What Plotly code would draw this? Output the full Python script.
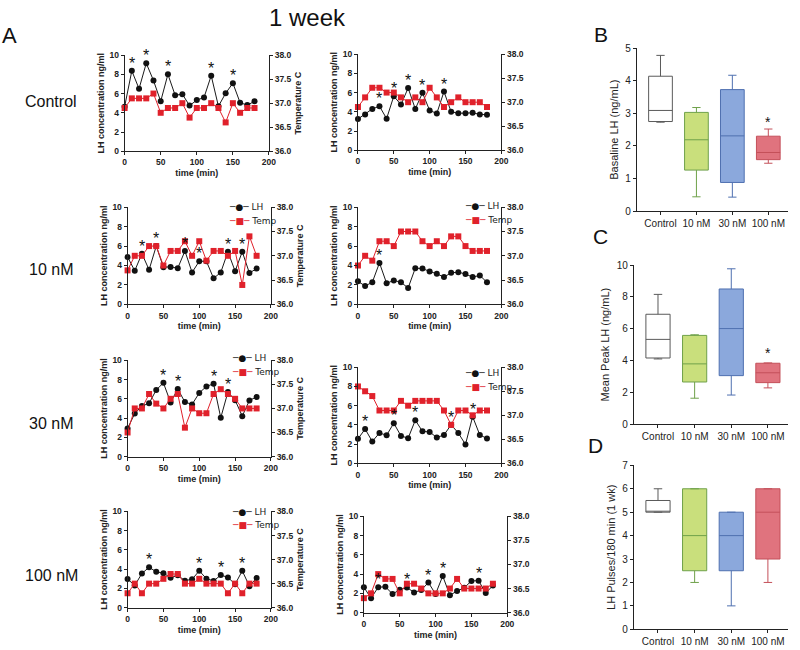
import plotly.graph_objects as go

TIME = list(range(0, 190, 10))
ROW_LABELS = ["Control", "10 nM", "30 nM", "100 nM"]

# ---- Panel A data (LH ng/ml, Temp C) ----
LH_CTRL_1 = [4.63, 8.36, 6.5, 9.15, 7.36, 5.19, 8.0, 5.83, 5.93, 4.75, 5.32, 5.59, 7.86, 4.68, 6.03, 7.08, 5.05, 4.8, 5.19]
TEMP_CTRL_1 = [36.9, 37.1, 37.1, 37.1, 37.2, 36.8, 36.9, 36.9, 37.0, 36.7, 36.9, 36.9, 37.0, 36.9, 36.6, 37.0, 36.8, 36.9, 36.9]
PEAKS_CTRL_1 = [10, 30, 60, 120, 150]

LH_CTRL_2 = [3.25, 3.73, 4.3, 4.58, 3.29, 5.63, 4.75, 6.47, 4.3, 5.97, 4.14, 3.83, 6.1, 4.0, 3.86, 3.86, 3.9, 3.73, 3.7]
TEMP_CTRL_2 = [36.9, 37.1, 37.3, 37.3, 37.2, 37.2, 37.1, 37.0, 37.1, 37.0, 37.3, 37.1, 36.9, 37.0, 37.1, 37.0, 37.0, 37.0, 36.9]
PEAKS_CTRL_2 = [30, 50, 70, 90, 120]

LH_10_1 = [4.88, 3.46, 5.22, 3.56, 6.0, 3.83, 3.86, 3.73, 5.49, 3.29, 4.44, 4.44, 2.68, 3.29, 5.42, 3.42, 5.42, 3.22, 3.69]
TEMP_10_1 = [36.7, 37.0, 37.0, 37.2, 37.2, 36.8, 37.1, 37.1, 37.3, 37.0, 37.3, 36.9, 37.1, 37.1, 37.0, 37.1, 36.4, 37.4, 37.0]
PEAKS_10_1 = [20, 40, 80, 100, 140, 160]

LH_10_2 = [2.37, 1.9, 2.27, 4.27, 2.17, 2.47, 2.27, 1.69, 3.73, 3.69, 3.39, 3.15, 2.81, 3.25, 3.32, 3.12, 2.81, 2.98, 2.27]
TEMP_10_2 = [36.8, 37.0, 36.9, 37.3, 37.3, 37.2, 37.5, 37.5, 37.5, 37.3, 37.2, 37.3, 37.2, 37.4, 37.4, 37.2, 37.1, 37.1, 37.1]
PEAKS_10_2 = [30]

LH_30_1 = [2.92, 4.47, 5.25, 5.53, 6.92, 7.66, 5.63, 7.02, 5.66, 5.42, 6.61, 7.29, 7.56, 4.03, 6.71, 5.86, 4.2, 5.83, 6.2]
TEMP_30_1 = [36.5, 37.0, 37.0, 37.3, 37.1, 37.0, 37.2, 37.3, 36.6, 37.0, 36.9, 36.9, 37.3, 37.4, 37.3, 37.2, 37.0, 37.0, 37.0]
PEAKS_30_1 = [50, 70, 120, 140]

LH_30_2 = [2.55, 3.57, 2.28, 3.16, 2.93, 4.18, 2.86, 2.62, 4.49, 3.33, 3.27, 2.69, 2.96, 4.01, 3.16, 1.97, 4.86, 2.96, 2.59]
TEMP_30_2 = [37.6, 37.5, 37.4, 37.1, 37.1, 37.1, 37.3, 37.2, 37.3, 37.3, 37.3, 37.3, 37.1, 36.8, 37.1, 37.1, 37.0, 37.1, 37.1]
PEAKS_30_2 = [10, 50, 80, 130, 160]

LH_100_1 = [2.98, 2.31, 3.56, 4.2, 3.73, 3.59, 3.12, 3.36, 2.81, 2.95, 3.83, 3.02, 2.78, 3.39, 3.15, 2.44, 3.83, 2.24, 3.08]
TEMP_100_1 = [36.3, 36.5, 36.3, 36.5, 36.5, 36.6, 36.7, 36.7, 36.5, 36.5, 36.6, 36.5, 36.5, 36.5, 36.3, 36.5, 36.3, 36.5, 36.5]
PEAKS_100_1 = [30, 100, 130, 160]

LH_100_2 = [2.64, 1.49, 2.64, 2.68, 1.93, 2.37, 2.61, 2.1, 2.34, 3.12, 1.93, 3.8, 1.8, 2.24, 2.58, 3.29, 3.32, 2.03, 2.81]
TEMP_100_2 = [36.3, 36.4, 36.8, 36.7, 36.7, 36.4, 36.6, 36.6, 36.5, 36.4, 36.4, 36.4, 36.5, 36.7, 36.5, 36.5, 36.5, 36.5, 36.6]
PEAKS_100_2 = [20, 60, 90, 110, 160]

SERIES_NAMES = ["LH", "Temp"]

# ---- Panels B, C, D (box summaries) ----
GROUPS = ["Control", "10 nM", "30 nM", "100 nM"]
BASAL_MIN = [2.73, 0.44, 0.43, 1.47]
BASAL_Q1 = [2.75, 1.26, 0.88, 1.58]
BASAL_MED = [3.09, 2.19, 2.31, 1.80]
BASAL_Q3 = [4.14, 3.03, 3.73, 2.30]
BASAL_MAX = [4.78, 3.18, 4.17, 2.52]

PEAK_MIN = [4.10, 1.63, 1.83, 2.28]
PEAK_Q1 = [4.16, 2.65, 3.05, 2.61]
PEAK_MED = [5.33, 3.79, 6.01, 3.23]
PEAK_Q3 = [6.91, 5.58, 8.50, 3.83]
PEAK_MAX = [8.16, 5.62, 9.77, 3.85]

PULSE_MIN = [5.0, 2.0, 1.0, 2.0]
PULSE_Q1 = [5.0, 2.5, 2.5, 3.0]
PULSE_MED = [5.0, 4.0, 4.0, 5.0]
PULSE_Q3 = [5.5, 6.0, 5.0, 6.0]
PULSE_MAX = [6.0, 6.0, 5.0, 6.0]

BOX_FILL = ["#ffffff", "#c9df7c", "#8ba8dc", "#e0737e"]
BOX_LINE = ["#5a5a5a", "#6fa14a", "#4f70b0", "#c4505a"]

W, H = 800, 650
FONT = "Liberation Sans, Arial, sans-serif"
AX = "#222222"
BLACK = "#111111"
RED = "#e0212b"

def fx(a, b):
    return [a / W, b / W]

def fy(top, bottom):
    return [1 - bottom / H, 1 - top / H]

# panel geometry (px): x0, x1, ytop, ybottom ; legend: (icon-left x, LH row y, Temp row y)
PANELS = [
    dict(lh=LH_CTRL_1, tp=TEMP_CTRL_1, pk=PEAKS_CTRL_1, g=(124, 270, 50, 148), rt=True, leg=None),
    dict(lh=LH_CTRL_2, tp=TEMP_CTRL_2, pk=PEAKS_CTRL_2, g=(360, 505, 49, 147), rt=False, leg=None),
    dict(lh=LH_10_1, tp=TEMP_10_1, pk=PEAKS_10_1, g=(127, 272, 205, 304), rt=True, leg=(228, 205, 219)),
    dict(lh=LH_10_2, tp=TEMP_10_2, pk=PEAKS_10_2, g=(360, 505, 205, 304), rt=False, leg=(466, 204, 218)),
    dict(lh=LH_30_1, tp=TEMP_30_1, pk=PEAKS_30_1, g=(127, 272, 361, 459), rt=True, leg=(231, 359, 373)),
    dict(lh=LH_30_2, tp=TEMP_30_2, pk=PEAKS_30_2, g=(360, 505, 368, 466), rt=False, leg=(466, 374, 388)),
    dict(lh=LH_100_1, tp=TEMP_100_1, pk=PEAKS_100_1, g=(127, 272, 515, 613), rt=True, leg=(231, 516, 529)),
    dict(lh=LH_100_2, tp=TEMP_100_2, pk=PEAKS_100_2, g=(366, 511, 520, 618), rt=False, leg=None),
]

fig = go.Figure()
layout = dict(
    width=W, height=H, margin=dict(l=0, r=0, t=0, b=0),
    paper_bgcolor="white", plot_bgcolor="rgba(0,0,0,0)",
    font=dict(family=FONT, color=AX), showlegend=False,
)
annotations = []

tickfont = dict(family=FONT, size=8.5, color=AX, weight="bold")
titlefont = dict(family=FONT, size=9, color=AX, weight="bold")


def lab(text, x, y, size, xanchor="center", color=BLACK, font=FONT):
    annotations.append(dict(text=text, x=x / W, y=1 - y / H, xref="paper", yref="paper",
                            xanchor=xanchor, yanchor="middle", showarrow=False,
                            font=dict(family=font, size=size, color=color)))


for i, p in enumerate(PANELS):
    n = i + 1
    ny2 = 8 + n
    x0, x1, yt, yb = p["g"]
    xa = "x" if n == 1 else f"x{n}"
    ya = "y" if n == 1 else f"y{n}"
    ya2 = f"y{ny2}"
    fig.add_trace(go.Scatter(
        x=TIME, y=p["lh"], name=SERIES_NAMES[0], mode="lines+markers", xaxis=xa, yaxis=ya,
        line=dict(color="#1a1a1a", width=1), marker=dict(symbol="circle", size=6, color=BLACK),
        cliponaxis=False,
    ))
    fig.add_trace(go.Scatter(
        x=TIME, y=p["tp"], name=SERIES_NAMES[1], mode="lines+markers", xaxis=xa, yaxis=ya2,
        line=dict(color=RED, width=1), marker=dict(symbol="square", size=6, color=RED),
        cliponaxis=False,
    ))
    common = dict(showline=True, linecolor=AX, linewidth=1, ticks="outside", ticklen=3,
                  tickwidth=1, tickcolor=AX, showgrid=False, zeroline=False, tickfont=tickfont)
    layout["xaxis" if n == 1 else f"xaxis{n}"] = dict(
        domain=fx(x0, x1), anchor=ya, range=[0, 200], dtick=50, tick0=0,
        title=dict(text="time (min)", font=titlefont, standoff=3), **common)
    layout["yaxis" if n == 1 else f"yaxis{n}"] = dict(
        domain=fy(yt, yb), anchor=xa, range=[0, 10], dtick=2, tick0=0,
        title=dict(text="LH concentration ng/ml", font=titlefont, standoff=3), **common)
    layout[f"yaxis{ny2}"] = dict(
        domain=fy(yt, yb), anchor=xa, overlaying=ya, side="right", range=[36, 38], dtick=0.5,
        tick0=36, tickformat=".1f",
        title=dict(text="Temperature C" if p["rt"] else "", font=titlefont, standoff=4), **common)
    for t in p["pk"]:
        v = p["lh"][TIME.index(t)]
        annotations.append(dict(x=t, y=v, xref=xa, yref=ya, text="*", showarrow=False,
                                yanchor="bottom", yshift=-3,
                                font=dict(family=FONT, size=16, color=BLACK)))
    if p["leg"] is not None:
        lx, y_lh, y_tp = p["leg"]
        lab(f"<span style='color:{BLACK}'>─●─</span> {SERIES_NAMES[0]}", lx, y_lh, 9,
            xanchor="left", color=AX, font="DejaVu Sans, sans-serif")
        lab(f"<span style='color:{RED}'>─■─</span> {SERIES_NAMES[1]}", lx, y_tp, 9,
            xanchor="left", color=AX, font="DejaVu Sans, sans-serif")

# ---- Box panels ----
BOXES = [
    dict(lo=BASAL_MIN, q1=BASAL_Q1, md=BASAL_MED, q3=BASAL_Q3, hi=BASAL_MAX, g=(642, 795, 43, 209),
         rng=[0, 5], dt=1, title="Basaline LH (ng/mL)", star=2.75),
    dict(lo=PEAK_MIN, q1=PEAK_Q1, md=PEAK_MED, q3=PEAK_Q3, hi=PEAK_MAX, g=(639, 795, 264, 426),
         rng=[0, 10], dt=2, title="Mean Peak LH (ng/mL)", star=4.45),
    dict(lo=PULSE_MIN, q1=PULSE_Q1, md=PULSE_MED, q3=PULSE_Q3, hi=PULSE_MAX, g=(639, 795, 468, 635),
         rng=[0, 7], dt=1, title="LH Pulses/180 min (1 wk)", star=None),
]
for j, b in enumerate(BOXES):
    n = 9 + j
    ny = 17 + j
    xa, ya = f"x{n}", f"y{ny}"
    x0, x1, yt, yb = b["g"]
    for k, grp in enumerate(GROUPS):
        fig.add_trace(go.Box(
            x=[grp], q1=[b["q1"][k]], median=[b["md"][k]], q3=[b["q3"][k]],
            lowerfence=[b["lo"][k]], upperfence=[b["hi"][k]], xaxis=xa, yaxis=ya,
            fillcolor=BOX_FILL[k], line=dict(color=BOX_LINE[k], width=1), width=0.66,
            whiskerwidth=0.35, showlegend=False, boxpoints=False, hoverinfo="skip",
        ))
    bcommon = dict(showline=True, linecolor=AX, linewidth=1, ticks="outside", ticklen=3,
                   tickwidth=1, tickcolor=AX, showgrid=False, zeroline=False,
                   tickfont=dict(family=FONT, size=10, color=AX))
    layout[f"xaxis{n}"] = dict(domain=fx(x0, x1), anchor=ya, type="category",
                               categoryorder="array", categoryarray=GROUPS,
                               range=[-0.66, 3.55], **bcommon)
    layout[f"yaxis{ny}"] = dict(domain=fy(yt, yb), anchor=xa, range=b["rng"], dtick=b["dt"],
                                title=dict(text=b["title"], font=dict(family=FONT, size=11, color=AX), standoff=4),
                                **bcommon)
    if b["star"] is not None:
        annotations.append(dict(x=GROUPS[3], y=b["star"], xref=xa, yref=ya, text="*", showarrow=False,
                                font=dict(family=FONT, size=14, color=BLACK)))

# ---- text labels ----
lab("1 week", 309, 12, 24)
lab("A", 8, 30, 22)
lab("B", 606, 29, 21)
lab("C", 605, 235, 21)
lab("D", 600, 448, 21)
for txt, yy in zip(ROW_LABELS, [97, 268, 425, 580]):
    lab(txt, 50, yy, 16)

layout["annotations"] = annotations
fig.update_layout(**layout)
fig.write_html(
    "out.html",
    config={"displayModeBar": False},
    post_script="document.body.style.margin='0';document.body.style.overflow='hidden';",
)
